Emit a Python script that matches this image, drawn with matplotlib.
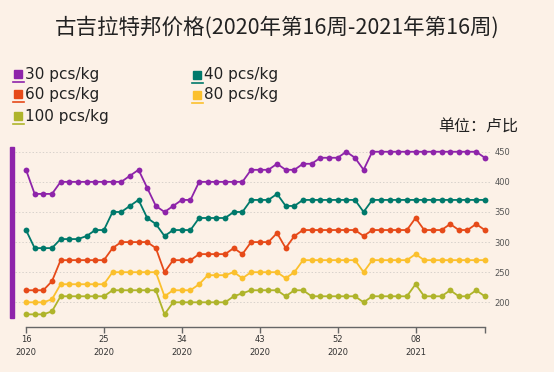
import matplotlib
matplotlib.use("Agg")
import matplotlib.pyplot as plt
from matplotlib.patches import Rectangle
from matplotlib.lines import Line2D

# weekly prices, 2020 week 16 .. 2021 week 16 (54 weeks)
p30 = [420, 380, 380, 380, 400, 400, 400, 400, 400, 400, 400, 400,
       410, 420, 390, 360, 350, 360, 370, 370, 400, 400, 400, 400,
       400, 400, 420, 420, 420, 430, 420, 420, 430, 430, 440, 440,
       440, 450, 440, 420, 450, 450, 450, 450, 450, 450, 450, 450,
       450, 450, 450, 450, 450, 440]
p40 = [320, 290, 290, 290, 305, 305, 305, 310, 320, 320, 350, 350,
       360, 370, 340, 330, 310, 320, 320, 320, 340, 340, 340, 340,
       350, 350, 370, 370, 370, 380, 360, 360, 370, 370, 370, 370,
       370, 370, 370, 350, 370, 370, 370, 370, 370, 370, 370, 370,
       370, 370, 370, 370, 370, 370]
p60 = [220, 220, 220, 235, 270, 270, 270, 270, 270, 270, 290, 300,
       300, 300, 300, 290, 250, 270, 270, 270, 280, 280, 280, 280,
       290, 280, 300, 300, 300, 315, 290, 310, 320, 320, 320, 320,
       320, 320, 320, 310, 320, 320, 320, 320, 320, 340, 320, 320,
       320, 330, 320, 320, 330, 320]
p80 = [200, 200, 200, 205, 230, 230, 230, 230, 230, 230, 250, 250,
       250, 250, 250, 250, 210, 220, 220, 220, 230, 245, 245, 245,
       250, 240, 250, 250, 250, 250, 240, 250, 270, 270, 270, 270,
       270, 270, 270, 250, 270, 270, 270, 270, 270, 280, 270, 270,
       270, 270, 270, 270, 270, 270]
p100 = [180, 180, 180, 185, 210, 210, 210, 210, 210, 210, 220, 220,
        220, 220, 220, 220, 180, 200, 200, 200, 200, 200, 200, 200,
        210, 215, 220, 220, 220, 220, 210, 220, 220, 210, 210, 210,
        210, 210, 210, 200, 210, 210, 210, 210, 210, 230, 210, 210,
        210, 220, 210, 210, 220, 210]

series_names = ["30 pcs/kg", "40 pcs/kg", "60 pcs/kg", "80 pcs/kg", "100 pcs/kg"]
series_values = [p30, p40, p60, p80, p100]
colors = ["#8E24AA", "#00796B", "#E64A19", "#FBC02D", "#AFB42B"]

tick_pos = [0, 9, 18, 27, 36, 45, 53]
tick_labels = ["16\n2020", "25\n2020", "34\n2020", "43\n2020", "52\n2020", "08\n2021", ""]
y_ticks = [200, 250, 300, 350, 400, 450]

BG = "#fcf1e7"
W, H = 554, 372

fig = plt.figure(figsize=(W / 100, H / 100), dpi=100, facecolor=BG)
ax = fig.add_axes([15 / W, (H - 327) / H, (490 - 15) / W, (327 - 140) / H])
ax.set_facecolor(BG)

x = list(range(len(p30)))
for vals, col in zip(series_values, colors):
    ax.plot(x, vals, color=col, lw=1.3, marker="o", markersize=4.2,
            markeredgewidth=0, zorder=3)

ax.set_xlim(-1.27, 53.6)
ax.set_ylim(159, 469.5)

for s in ["top", "left", "right"]:
    ax.spines[s].set_visible(False)
ax.spines["bottom"].set_bounds(0, 53)
ax.spines["bottom"].set_color("#666666")
ax.spines["bottom"].set_linewidth(1.0)

ax.set_xticks(tick_pos)
ax.set_xticklabels(tick_labels, fontsize=6, color="#333333", linespacing=1.5)
ax.tick_params(axis="x", direction="out", length=4, width=1.0, color="#666666", pad=2)

ax.yaxis.tick_right()
ax.set_yticks(y_ticks)
ax.set_yticklabels([str(v) for v in y_ticks], fontsize=6, color="#555555")
ax.tick_params(axis="y", length=0, pad=3)
ax.grid(axis="y", color="#d8d2cc", linestyle=(0, (1.5, 2)), linewidth=0.7)

# purple accent bar on the left
fig.patches.append(Rectangle((10 / W, (H - 318) / H), 4 / W, 171 / H,
                             transform=fig.transFigure, color="#8E24AA"))

fig.text(0.5, 1 - 28 / H, "古吉拉特邦价格(2020年第16周-2021年第16周)",
         ha="center", va="center", fontsize=15.5, color="#222222",
         family=["Noto Sans CJK SC", "DejaVu Sans"])

# legend: square swatch with an underline, two columns
leg_pos = [(14, 74), (193, 75), (14, 94), (193, 95), (14, 116)]
for (lx, ly), name, col in zip(leg_pos, series_names, colors):
    fig.patches.append(Rectangle((lx / W, (H - ly - 4) / H), 8 / W, 8 / H,
                                 transform=fig.transFigure, color=col))
    fig.lines.append(Line2D([(lx - 1) / W, (lx + 10) / W],
                            [(H - ly - 8) / H, (H - ly - 8) / H],
                            transform=fig.transFigure, color=col, lw=1.2))
    fig.text((lx + 11) / W, 1 - ly / H, name, ha="left", va="center",
             fontsize=11, color="#222222")

fig.text(518 / W, 1 - 127 / H, "单位：卢比", ha="right", va="center",
         fontsize=11.5, color="#222222", family=["Noto Sans CJK SC", "DejaVu Sans"])

fig.savefig("out.png", dpi=100, facecolor=BG)
